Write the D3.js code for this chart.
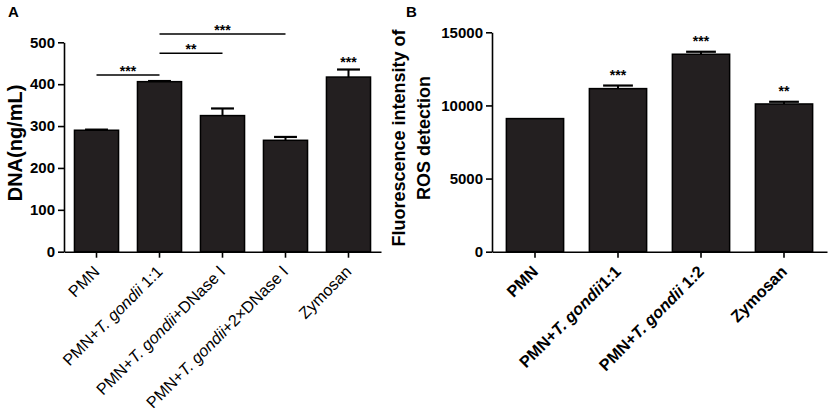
<!DOCTYPE html>
<html>
<head>
<meta charset="utf-8">
<script src="https://cdn.jsdelivr.net/npm/d3@7"></script>
<style>
  body { margin: 0; background: #fff; }
  svg { font-family: Arial, "Liberation Sans", sans-serif; }
</style>
</head>
<body>
<div id="fig"></div>
<script>
// Panel A: DNA release
const categoriesA = ["PMN", "PMN+T. gondii 1:1", "PMN+T. gondii+DNase \u2160", "PMN+T. gondii+2\u00d7DNase \u2160", "Zymosan"]
const dnaMean = [290, 406, 325, 266, 417]
const dnaErr = [1.5, 1.5, 17, 8, 18]
const dnaStars = ["", "", "", "", "***"]
const dnaTicks = [0, 100, 200, 300, 400, 500]
// brackets: from bar, to bar, height (in ng/mL), label
const bracketFrom = [0, 1, 1]
const bracketTo = [1, 2, 3]
const bracketLevel = [422, 474, 520]
const bracketLabel = ["***", "**", "***"]

// Panel B: ROS
const categoriesB = ["PMN", "PMN+T. gondii1:1", "PMN+T. gondii 1:2", "Zymosan"]
const rosMean = [9100, 11150, 13500, 10100]
const rosErr = [0, 210, 170, 150]
const rosStars = ["", "***", "***", "**"]
const rosTicks = [0, 5000, 10000, 15000]

var width = 829
var height = 417
var barColor = "#231f20"

var svg = d3.select("#fig")
  .append("svg")
  .attr("width", width)
  .attr("height", height)

// write a label, putting "T. gondii" in italics
function labelText(sel, label) {
  var key = "T. gondii"
  var i = label.indexOf(key)
  if (i < 0) { sel.text(label); return }
  sel.append("tspan").text(label.slice(0, i))
  sel.append("tspan").attr("font-style", "italic").text(key)
  sel.append("tspan").text(label.slice(i + key.length))
}

function drawPanel(p) {
  var g = svg.append("g")

  var x = d3.scaleBand()
    .domain(p.cats)
    .range(p.xr)
    .paddingInner(p.padIn)
    .paddingOuter(p.padOut)

  var y = d3.scaleLinear()
    .domain(p.domain)
    .range(p.yr)

  // bars
  g.selectAll("rect.bar")
    .data(p.cats)
    .enter()
    .append("rect")
    .attr("class", "bar")
    .attr("x", d => x(d))
    .attr("width", x.bandwidth())
    .attr("y", (d, i) => y(p.mean[i]))
    .attr("height", (d, i) => y(0) - y(p.mean[i]))
    .attr("fill", barColor)
    .attr("stroke", "#000")
    .attr("stroke-width", 1.5)

  // error bars (upper only)
  var capW = x.bandwidth() * 0.52
  p.cats.forEach(function(d, i) {
    if (!p.err[i]) return
    var cx = x(d) + x.bandwidth() / 2
    g.append("line")
      .attr("x1", cx).attr("x2", cx)
      .attr("y1", y(p.mean[i])).attr("y2", y(p.mean[i] + p.err[i]))
      .attr("stroke", "#000").attr("stroke-width", 2)
    g.append("line")
      .attr("x1", cx - capW / 2).attr("x2", cx + capW / 2)
      .attr("y1", y(p.mean[i] + p.err[i])).attr("y2", y(p.mean[i] + p.err[i]))
      .attr("stroke", "#000").attr("stroke-width", 2.2)
  })

  // stars over bars
  g.selectAll("text.star")
    .data(p.cats)
    .enter()
    .append("text")
    .attr("class", "star")
    .attr("x", d => x(d) + x.bandwidth() / 2)
    .attr("y", (d, i) => y(p.mean[i] + p.err[i]) - p.starGap)
    .attr("text-anchor", "middle")
    .attr("font-size", 14)
    .attr("font-weight", "bold")
    .text((d, i) => p.stars[i])

  // y axis
  var ya = g.append("g")
    .attr("transform", "translate(" + p.xr[0] + ",0)")
    .call(d3.axisLeft(y).tickValues(p.ticks).tickSize(6).tickSizeOuter(0).tickPadding(3).tickFormat(d3.format("d")))
  ya.select(".domain").attr("stroke-width", 1.6)
  ya.selectAll(".tick line").attr("stroke-width", 1.6)
  ya.selectAll(".tick text")
    .attr("font-size", 15)
    .attr("font-weight", "bold")
    .attr("font-family", "Arial, 'Liberation Sans', sans-serif")
    .attr("fill", "#000")

  // x axis
  var xa = g.append("g")
    .attr("transform", "translate(0," + y(0) + ")")
    .call(d3.axisBottom(x).tickSize(6).tickSizeOuter(0))
  xa.select(".domain").attr("stroke-width", 1.6)
  xa.selectAll(".tick line").attr("stroke-width", 1.6)
  xa.selectAll(".tick text").remove()
  xa.selectAll(".tick")
    .append("text")
    .attr("transform", "translate(4,21) rotate(-45)")
    .attr("text-anchor", "end")
    .attr("fill", "#000")
    .attr("font-size", p.labelSize)
    .attr("font-weight", p.labelWeight)
    .attr("font-family", "Arial, 'Liberation Sans', sans-serif")
    .each(function(d) { labelText(d3.select(this), d) })

  return { g: g, x: x, y: y }
}

// ---------------- Panel A ----------------
var A = drawPanel({
  cats: categoriesA, mean: dnaMean, err: dnaErr, stars: dnaStars, ticks: dnaTicks,
  domain: [0, 500], xr: [64, 381], yr: [251.7, 42.3],
  padIn: 0.3, padOut: 0.166, starGap: 3, labelWeight: "normal", labelSize: 16.2
})

var cxA = i => A.x(categoriesA[i]) + A.x.bandwidth() / 2
bracketFrom.forEach(function(f, k) {
  var yy = A.y(bracketLevel[k])
  A.g.append("line")
    .attr("x1", cxA(f)).attr("x2", cxA(bracketTo[k]))
    .attr("y1", yy).attr("y2", yy)
    .attr("stroke", "#000").attr("stroke-width", 1.5)
  A.g.append("text")
    .attr("x", (cxA(f) + cxA(bracketTo[k])) / 2)
    .attr("y", yy + 1)
    .attr("text-anchor", "middle")
    .attr("font-size", 14)
    .attr("font-weight", "bold")
    .text(bracketLabel[k])
})

A.g.append("text")
  .attr("transform", "translate(22,143) rotate(-90)")
  .attr("text-anchor", "middle")
  .attr("font-size", 20)
  .attr("font-weight", "bold")
  .text("DNA(ng/mL)")

svg.append("text")
  .attr("x", 8).attr("y", 17)
  .attr("font-size", 15).attr("font-weight", "bold")
  .text("A")

// ---------------- Panel B ----------------
var B = drawPanel({
  cats: categoriesB, mean: rosMean, err: rosErr, stars: rosStars, ticks: rosTicks,
  domain: [0, 15000], xr: [492, 827], yr: [251.7, 32.3],
  padIn: 0.31, padOut: 0.173, starGap: 6, labelWeight: "bold", labelSize: 16.3
})

var ylab = B.g.append("text")
  .attr("transform", "translate(405,138) rotate(-90)")
  .attr("text-anchor", "middle")
  .attr("font-size", 18)
  .attr("font-weight", "bold")
ylab.append("tspan").attr("x", 0).attr("dy", 0).text("Fluorescence intensity of")
ylab.append("tspan").attr("x", 0).attr("dy", 25).text("ROS detection")

svg.append("text")
  .attr("x", 406).attr("y", 17)
  .attr("font-size", 15).attr("font-weight", "bold")
  .text("B")
</script>
</body>
</html>
